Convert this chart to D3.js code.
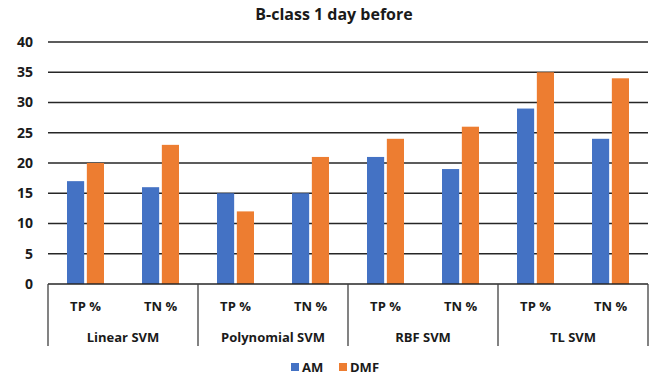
<!DOCTYPE html>
<html>
<head>
<meta charset="utf-8">
<script src="https://cdn.jsdelivr.net/npm/d3@7"></script>
<style>
  html, body { margin: 0; padding: 0; background: #fff; }
  svg { display: block; font-family: "Open Sans", "Noto Sans", sans-serif; }
</style>
</head>
<body>
<svg id="chart" width="657" height="382"></svg>
<script>
// Grouped bars: model groups, each with TP % / TN % subcategories, two series
const models = ["Linear SVM", "Polynomial SVM", "RBF SVM", "TL SVM"];
const metrics = ["TP %", "TN %"];
const seriesNames = ["AM", "DMF"];
const amValues  = [17, 16, 15, 15, 21, 19, 29, 24];
const dmfValues = [20, 23, 12, 21, 24, 26, 35, 34];
const yTicks = [0, 5, 10, 15, 20, 25, 30, 35, 40];
const colors = ["#4472C4", "#ED7D31"];

const svg = d3.select("#chart");
const margin = { left: 48, right: 9, top: 42, bottom: 98 };
const W = 657, H = 382;
const plotW = W - margin.left - margin.right;
const plotBottom = H - margin.bottom;

// one band per (model, metric) pair
const cells = [];
models.forEach((m, i) => metrics.forEach((t, j) => cells.push({ model: m, metric: t, key: m + "|" + t, idx: i * metrics.length + j })));

const x = d3.scaleBand().domain(cells.map(c => c.key)).range([margin.left, margin.left + plotW]).paddingInner(0).paddingOuter(0);
const xGroup = d3.scaleBand().domain(models).range([margin.left, margin.left + plotW]);
const y = d3.scaleLinear().domain([0, 40]).range([plotBottom, margin.top]);

// horizontal gridlines
svg.append("g").selectAll("line").data(yTicks.filter(v => v > 0)).join("line")
  .attr("x1", margin.left).attr("x2", margin.left + plotW)
  .attr("y1", d => y(d)).attr("y2", d => y(d))
  .attr("stroke", "#262626").attr("stroke-width", 1.5);

// y tick labels
svg.append("g").selectAll("text").data(yTicks).join("text")
  .attr("x", 33).attr("y", d => y(d)).attr("dy", "0.35em")
  .attr("text-anchor", "end").attr("font-size", 14).attr("font-weight", 700)
  .attr("fill", "#1a1a1a").text(d => d);

// bars
const barW = 16, gap = 5;
const sub = d3.scaleBand().domain(seriesNames).range([-(barW + gap / 2), barW + gap / 2]).paddingInner(gap / (2 * barW + gap));
const seriesData = [amValues, dmfValues];
const barG = svg.append("g");
seriesNames.forEach((s, si) => {
  barG.append("g").selectAll("rect").data(cells).join("rect")
    .attr("x", c => x(c.key) + x.bandwidth() / 2 + sub(s))
    .attr("width", sub.bandwidth())
    .attr("y", c => y(seriesData[si][c.idx]))
    .attr("height", c => plotBottom - y(seriesData[si][c.idx]))
    .attr("fill", colors[si]);
});

// baseline
svg.append("line")
  .attr("x1", margin.left).attr("x2", margin.left + plotW)
  .attr("y1", plotBottom).attr("y2", plotBottom)
  .attr("stroke", "#262626").attr("stroke-width", 1.5);

// group separators below the axis
const seps = models.map(m => xGroup(m)).concat([margin.left + plotW]);
svg.append("g").selectAll("line").data(seps).join("line")
  .attr("x1", d => d).attr("x2", d => d)
  .attr("y1", plotBottom).attr("y2", plotBottom + 62)
  .attr("stroke", "#404040").attr("stroke-width", 1.3);

// subcategory labels
svg.append("g").selectAll("text").data(cells).join("text")
  .attr("x", c => x(c.key) + x.bandwidth() / 2).attr("y", plotBottom + 22)
  .attr("dy", "0.35em").attr("text-anchor", "middle")
  .attr("font-size", 13).attr("font-weight", 700).attr("fill", "#1a1a1a")
  .text(c => c.metric);

// group labels
svg.append("g").selectAll("text").data(models).join("text")
  .attr("x", m => xGroup(m) + xGroup.bandwidth() / 2).attr("y", plotBottom + 53)
  .attr("dy", "0.35em").attr("text-anchor", "middle")
  .attr("font-size", 13).attr("font-weight", 700).attr("fill", "#1a1a1a")
  .text(m => m);

// title
svg.append("text").attr("x", 334).attr("y", 14).attr("dy", "0.35em")
  .attr("text-anchor", "middle").attr("font-size", 16).attr("font-weight", 700)
  .attr("fill", "#1a1a1a").text("B-class 1 day before");

// legend
const legend = svg.append("g");
const legendX = [291, 339];
seriesNames.forEach((s, i) => {
  legend.append("rect").attr("x", legendX[i]).attr("y", 363).attr("width", 8).attr("height", 8).attr("fill", colors[i]);
  legend.append("text").attr("x", legendX[i] + 11).attr("y", 367).attr("dy", "0.35em")
    .attr("font-size", 13).attr("font-weight", 700).attr("fill", "#1a1a1a").text(s);
});
</script>
</body>
</html>
